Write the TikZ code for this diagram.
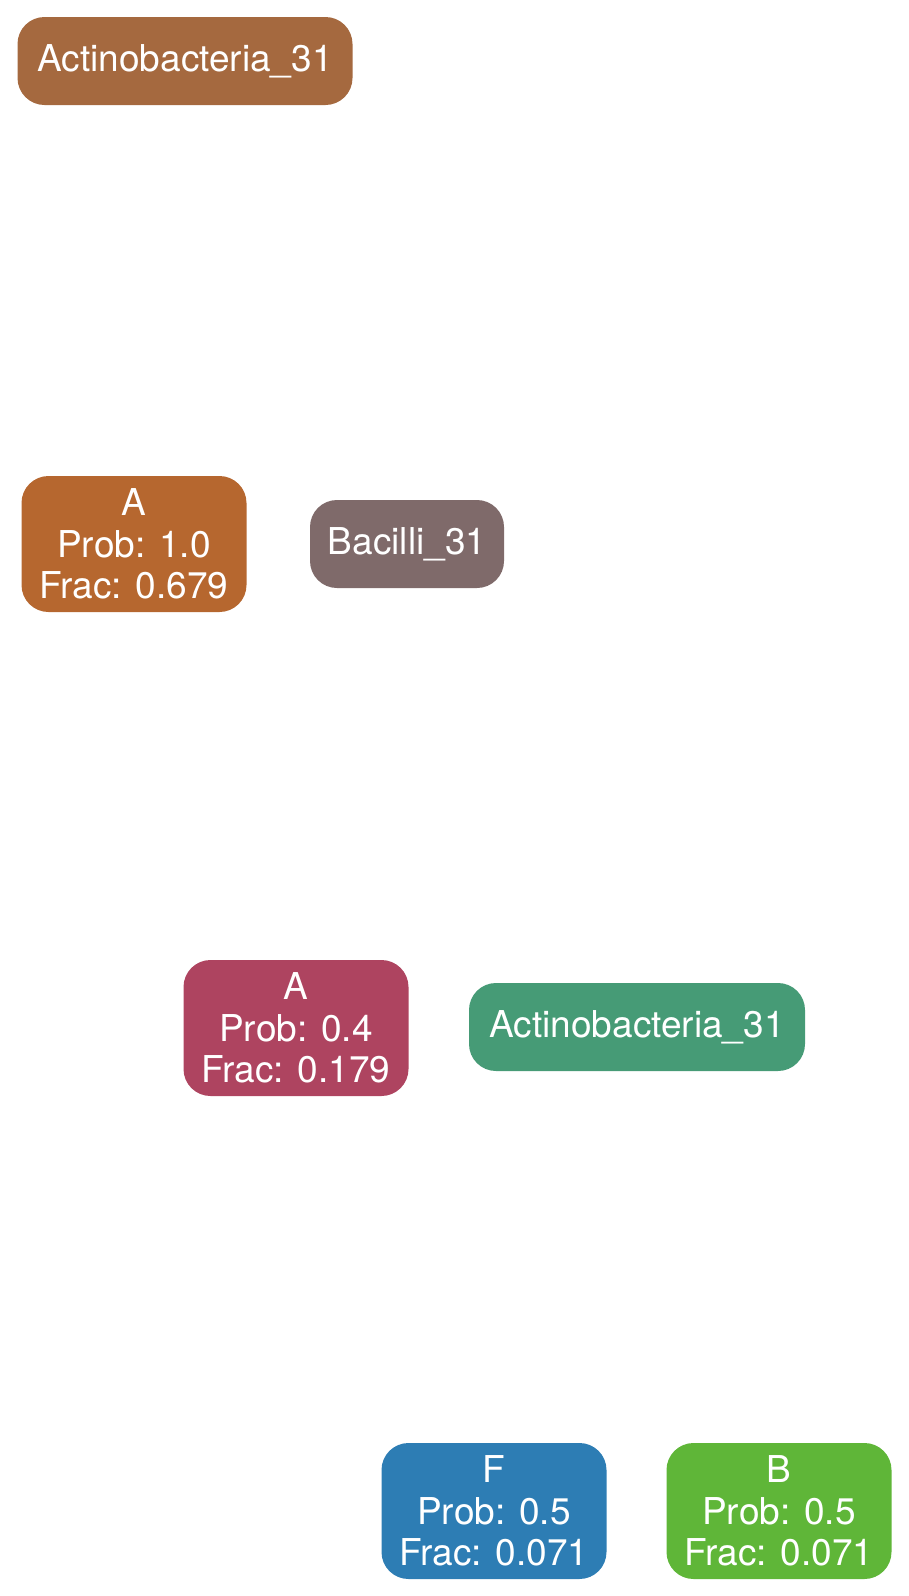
\documentclass[tikz,border=0pt]{standalone}
\usepackage{fontspec}
\setmainfont{TeX Gyre Heros}
\definecolor{cbrown}{HTML}{A5693F}
\definecolor{corange}{HTML}{B6672F}
\definecolor{cmauve}{HTML}{7F6A6A}
\definecolor{craspb}{HTML}{AE4460}
\definecolor{cgreen}{HTML}{469B76}
\definecolor{cblue}{HTML}{2D7DB4}
\definecolor{clime}{HTML}{5FB638}
\begin{document}
\begin{tikzpicture}[x=1pt,y=-1pt,
  box/.style={rectangle,rounded corners=27pt,inner sep=0pt,text=white,align=center,
    font=\fontsize{37}{41.7}\selectfont},
  onebox/.style={box,minimum height=88pt},
  threebox/.style={box,minimum height=136pt,minimum width=225pt}]
\useasboundingbox (0,0) rectangle (908,1596);
\node[onebox,fill=cbrown,minimum width=335pt] (n1) at (185,61) {Actinobacteria\_31};
\node[threebox,fill=corange] (n2) at (134,544) {A\\Prob: 1.0\\Frac: 0.679};
\node[onebox,fill=cmauve,minimum width=194pt] (n3) at (407,544) {Bacilli\_31};
\node[threebox,fill=craspb] (n4) at (296,1028) {A\\Prob: 0.4\\Frac: 0.179};
\node[onebox,fill=cgreen,minimum width=336pt] (n5) at (637,1027) {Actinobacteria\_31};
\node[threebox,fill=cblue] (n6) at (494,1511) {F\\Prob: 0.5\\Frac: 0.071};
\node[threebox,fill=clime] (n7) at (779,1511) {B\\Prob: 0.5\\Frac: 0.071};
\end{tikzpicture}
\end{document}
